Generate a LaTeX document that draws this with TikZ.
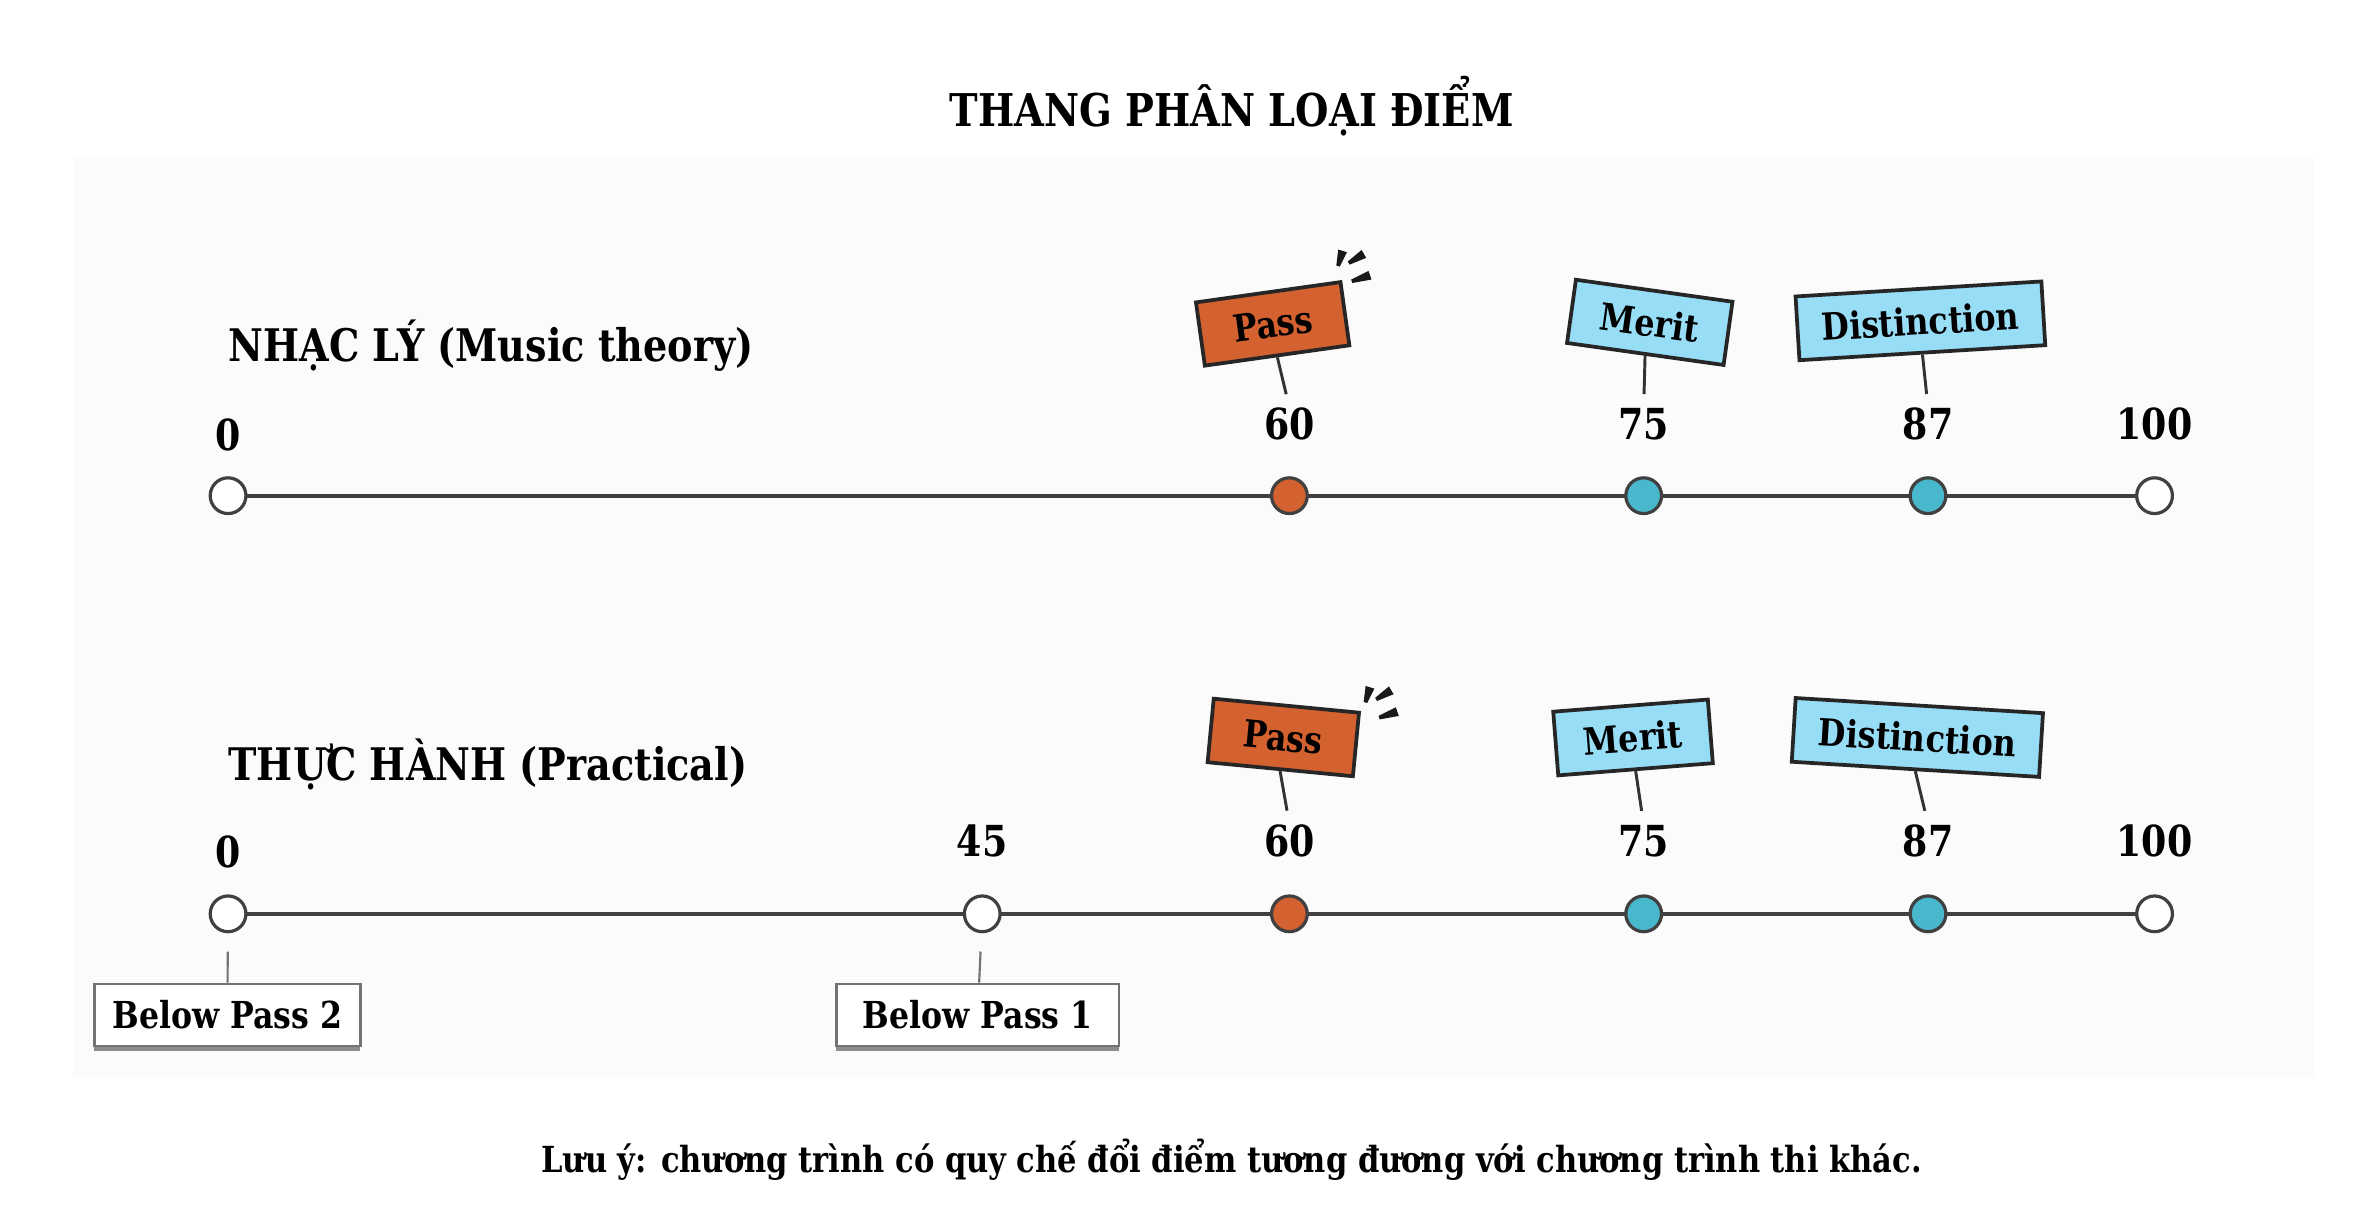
\documentclass[tikz,border=0pt]{standalone}
\usepackage{fontspec}
\setmainfont{DejaVu Serif}[FakeStretch=0.85]
\usepackage{tikz}
\usetikzlibrary{positioning}
\usetikzlibrary{shadows}
\pgfdeclarelayer{panellayer}
\pgfdeclarelayer{edgelayer}
\pgfsetlayers{panellayer,edgelayer,main}
\definecolor{passorange}{RGB}{212,97,48}
\definecolor{meritblue}{RGB}{152,221,246}
\definecolor{dotteal}{RGB}{74,184,204}
\definecolor{linegray}{RGB}{64,64,64}
\definecolor{panelgray}{RGB}{251,251,251}
\tikzset{
  scoredot/.style={circle, draw=linegray, line width=1.2pt, minimum size=0.47cm, inner sep=0pt, fill=white},
  passdot/.style={scoredot, fill=passorange},
  meritdot/.style={scoredot, fill=dotteal},
  score/.style={font=\bfseries\fontsize{16}{19}\selectfont, inner sep=0pt},
  rowlabel/.style={font=\bfseries\fontsize{16.8}{20}\selectfont, anchor=base west, inner sep=0pt},
  flag/.style={draw=black!85, line width=1.4pt, font=\bfseries\fontsize{14}{16}\selectfont, minimum height=0.84cm, inner sep=0pt},
  passflag/.style={flag, fill=passorange, minimum width=1.92cm},
  meritflag/.style={flag, fill=meritblue},
  stem/.style={draw=black!80, line width=1.1pt, shorten >=0.18cm},
  lowbox/.style={draw=black!55, fill=white, line width=0.9pt, minimum height=0.82cm, inner sep=0pt,
    font=\bfseries\fontsize{13.9}{16}\selectfont,
    drop shadow={shadow xshift=0pt, shadow yshift=-0.06cm, opacity=1, fill=black!45}},
  lowstem/.style={draw=black!55, line width=0.8pt, shorten <=0.24cm},
  axis/.style={draw=linegray, line width=1.5pt},
  spark/.style={fill=black!90}
}
% three little wedges next to the Pass flag
\newcommand{\sparkmarks}[1]{%
  \fill[spark] ([shift={(-5.15,-9.35)}]#1) -- ([shift={(-2.85,-8.65)}]#1) -- ([shift={(1.88,-18.13)}]#1) -- ([shift={(-3.88,-19.87)}]#1) -- cycle;
  \fill[spark] ([shift={(2.39,-12.03)}]#1) -- ([shift={(3.61,-9.97)}]#1) -- ([shift={(14.53,-14.42)}]#1) -- ([shift={(11.47,-19.58)}]#1) -- cycle;
  \fill[spark] ([shift={(4.62,-0.14)}]#1) -- ([shift={(5.38,2.14)}]#1) -- ([shift={(17.96,-0.15)}]#1) -- ([shift={(16.04,-5.85)}]#1) -- cycle;
}

\begin{document}
\begin{tikzpicture}[x=0.02cm, y=-0.02cm]
  \useasboundingbox (0,0) rectangle (1560,801);
  \begin{pgfonlayer}{panellayer}
    \fill[panelgray] (48,103) rectangle (1522,708);
  \end{pgfonlayer}

  \node[font=\bfseries\fontsize{16.9}{20}\selectfont] (title) at (810,70) {THANG PHÂN LOẠI ĐIỂM};

  % Music theory scale
  \node[rowlabel] (rowa) at (150,238) {NHẠC LÝ (Music theory)};
  \node[scoredot] (a0) at (150,326) {};
  \node[passdot] (a60) at (848,326) {};
  \node[meritdot] (a75) at (1081,326) {};
  \node[meritdot] (a87) at (1268,326) {};
  \node[scoredot] (a100) at (1417,326) {};
  \begin{pgfonlayer}{edgelayer}
    \draw[axis] (a0.center) -- (a100.center);
  \end{pgfonlayer}
  \node[score] (na0) at (150,286) {0};
  \node[score] (na60) at (848,279) {60};
  \node[score] (na75) at (1081,279) {75};
  \node[score] (na87) at (1268,279) {87};
  \node[score] (na100) at (1417,279) {100};
  \node[passflag, rotate=8] (fa60) at (837,213) {Pass};
  \node[meritflag, minimum width=2.08cm, rotate=-8] (fa75) at (1085,212) {Merit};
  \node[meritflag, minimum width=3.24cm, rotate=3.5] (fa87) at (1263,211) {Distinction};
  \draw[stem] (fa60.south) -- (na60.north);
  \draw[stem] (fa75.south) -- (na75.north);
  \draw[stem] (fa87.south) -- (na87.north);
  \coordinate (sa) at (884,184);
  \sparkmarks{sa}

  % Practical scale
  \node[rowlabel] (rowb) at (150,513) {THỰC HÀNH (Practical)};
  \node[scoredot] (b0) at (150,601) {};
  \node[scoredot] (b45) at (646,601) {};
  \node[passdot] (b60) at (848,601) {};
  \node[meritdot] (b75) at (1081,601) {};
  \node[meritdot] (b87) at (1268,601) {};
  \node[scoredot] (b100) at (1417,601) {};
  \begin{pgfonlayer}{edgelayer}
    \draw[axis] (b0.center) -- (b100.center);
  \end{pgfonlayer}
  \node[score] (nb0) at (150,560) {0};
  \node[score] (nb45) at (646,553) {45};
  \node[score] (nb60) at (848,553) {60};
  \node[score] (nb75) at (1081,553) {75};
  \node[score] (nb87) at (1268,553) {87};
  \node[score] (nb100) at (1417,553) {100};
  \node[passflag, rotate=-5.5] (fb60) at (844,485) {Pass};
  \node[meritflag, minimum width=2.04cm, rotate=4.5] (fb75) at (1074,485) {Merit};
  \node[meritflag, minimum width=3.26cm, rotate=-3.5] (fb87) at (1261,485) {Distinction};
  \draw[stem] (fb60.south) -- (nb60.north);
  \draw[stem] (fb75.south) -- (nb75.north);
  \draw[stem] (fb87.south) -- (nb87.north);
  \coordinate (sb) at (902,471);
  \sparkmarks{sb}

  \node[lowbox, minimum width=3.5cm] (below2) at (149.5,667.5) {Below Pass 2};
  \node[lowbox, minimum width=3.72cm] (below1) at (643,667.5) {Below Pass 1};
  \draw[lowstem] (b0) -- (below2);
  \draw[lowstem] (b45) -- (below1);

  \node[font=\bfseries\fontsize{13.45}{16}\selectfont] (note) at (810,763) {Lưu ý: chương trình có quy chế đổi điểm tương đương với chương trình thi khác.};
\end{tikzpicture}
\end{document}
